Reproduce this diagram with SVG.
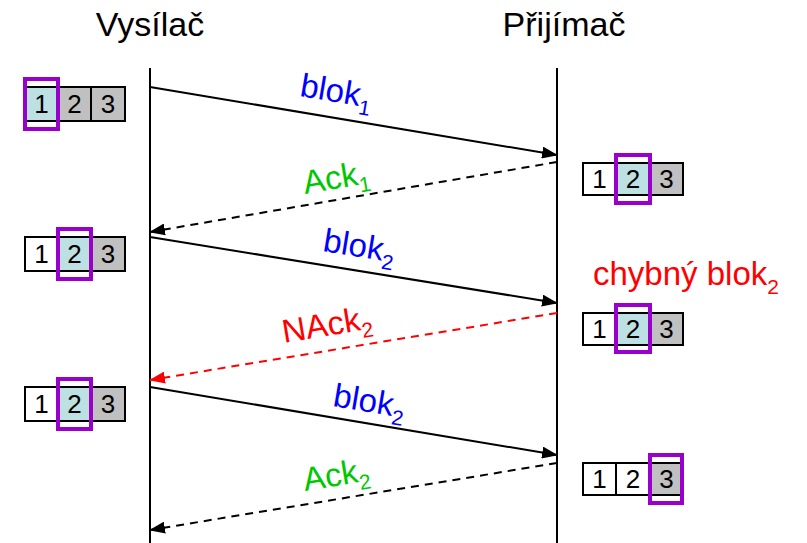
<svg xmlns="http://www.w3.org/2000/svg" width="807" height="543" viewBox="0 0 807 543">
<defs>
<marker id="ah" markerUnits="userSpaceOnUse" markerWidth="16" markerHeight="12" refX="15" refY="6" orient="auto"><path d="M0,0 L16,6 L0,12 z" fill="#000"/></marker>
<marker id="ahr" markerUnits="userSpaceOnUse" markerWidth="16" markerHeight="12" refX="15" refY="6" orient="auto"><path d="M0,0 L16,6 L0,12 z" fill="#f00"/></marker>
</defs>
<style>
text{font-family:"Liberation Sans",Arial,sans-serif}
.title{font-size:34px;fill:#000}
.lbl{font-size:33px}
.sub{font-size:21px}
.cw{fill:#fff;stroke:#000;stroke-width:2}
.cc{fill:#bde0e2;stroke:#000;stroke-width:2}
.cg{fill:#c0c0c0;stroke:#000;stroke-width:2}
.num{font-size:26px;fill:#000;text-anchor:middle}
.sel{fill:none;stroke:#9a00cc;stroke-width:4}
.ln{stroke:#000;stroke-width:2;fill:none}
.msg{stroke:#000;stroke-width:2;fill:none;marker-end:url(#ah)}
.dash{stroke-dasharray:8,6}
</style>
<rect width="807" height="543" fill="#fff"/>
<g id="titles">
<text class="title" x="150" y="36" text-anchor="middle">Vysílač</text>
<text class="title" x="564" y="36" text-anchor="middle">Přijímač</text>
</g>
<g id="lifelines">
<line class="ln" x1="150" y1="68" x2="150" y2="543"/>
<line class="ln" x1="557" y1="68" x2="557" y2="543"/>
</g>
<g id="connectors">
<line class="msg" x1="150" y1="87" x2="557" y2="155"/>
<line class="msg dash" x1="557" y1="162" x2="150" y2="232"/>
<line class="msg" x1="150" y1="237" x2="557" y2="303"/>
<line class="msg dash" x1="557" y1="313" x2="150" y2="380" style="stroke:#f00;marker-end:url(#ahr)"/>
<line class="msg" x1="150" y1="387" x2="557" y2="455"/>
<line class="msg dash" x1="557" y1="463" x2="150" y2="530"/>
</g>
<g id="labels">
<text class="lbl" fill="#0000ff" x="299" y="96" transform="rotate(9.5 299 96)">blok<tspan class="sub" dy="8">1</tspan></text>
<text class="lbl" fill="#00c800" x="305" y="194" transform="rotate(-9.7 305 194)">Ack<tspan class="sub" dy="8">1</tspan></text>
<text class="lbl" fill="#0000ff" x="322" y="251" transform="rotate(9.2 322 251)">blok<tspan class="sub" dy="8">2</tspan></text>
<text class="lbl" fill="#ff0000" x="284" y="343" transform="rotate(-9.4 284 343)">NAck<tspan class="sub" dy="8">2</tspan></text>
<text class="lbl" fill="#0000ff" x="332" y="406" transform="rotate(9.5 332 406)">blok<tspan class="sub" dy="8">2</tspan></text>
<text class="lbl" fill="#00c800" x="305" y="491" transform="rotate(-9.4 305 491)">Ack<tspan class="sub" dy="8">2</tspan></text>
<text class="lbl" fill="#ff0000" x="593" y="285">chybný blok<tspan class="sub" dy="9">2</tspan></text>
</g>
<g id="s1">
<rect class="cc" x="25" y="87" width="33" height="34"/><rect class="cg" x="58" y="87" width="33" height="34"/><rect class="cg" x="91" y="87" width="34" height="34"/>
<text class="num" x="41.5" y="113">1</text><text class="num" x="74.5" y="113">2</text><text class="num" x="108" y="113">3</text>
<rect class="sel" x="25" y="79" width="33" height="50"/>
</g>
<g id="s2">
<rect class="cw" x="25" y="237" width="33" height="34"/><rect class="cc" x="58" y="237" width="33" height="34"/><rect class="cg" x="91" y="237" width="34" height="34"/>
<text class="num" x="41.5" y="263">1</text><text class="num" x="74.5" y="263">2</text><text class="num" x="108" y="263">3</text>
<rect class="sel" x="58" y="229" width="33" height="50"/>
</g>
<g id="s3">
<rect class="cw" x="25" y="387" width="33" height="34"/><rect class="cc" x="58" y="387" width="33" height="34"/><rect class="cg" x="91" y="387" width="34" height="34"/>
<text class="num" x="41.5" y="413">1</text><text class="num" x="74.5" y="413">2</text><text class="num" x="108" y="413">3</text>
<rect class="sel" x="58" y="379" width="33" height="50"/>
</g>
<g id="r1">
<rect class="cw" x="583" y="163" width="33" height="32"/><rect class="cc" x="616" y="163" width="34" height="32"/><rect class="cg" x="650" y="163" width="33" height="32"/>
<text class="num" x="599.5" y="188">1</text><text class="num" x="633" y="188">2</text><text class="num" x="666.5" y="188">3</text>
<rect class="sel" x="616" y="155" width="34" height="48"/>
</g>
<g id="r2">
<rect class="cw" x="583" y="313" width="33" height="32"/><rect class="cc" x="616" y="313" width="34" height="32"/><rect class="cg" x="650" y="313" width="33" height="32"/>
<text class="num" x="599.5" y="338">1</text><text class="num" x="633" y="338">2</text><text class="num" x="666.5" y="338">3</text>
<rect class="sel" x="616" y="305" width="34" height="47"/>
</g>
<g id="r3">
<rect class="cw" x="583" y="463" width="33" height="32"/><rect class="cw" x="616" y="463" width="34" height="32"/><rect class="cg" x="650" y="463" width="33" height="32"/>
<text class="num" x="599.5" y="488">1</text><text class="num" x="633" y="488">2</text><text class="num" x="666.5" y="488">3</text>
<rect class="sel" x="650" y="455" width="32" height="48"/>
</g>
</svg>
